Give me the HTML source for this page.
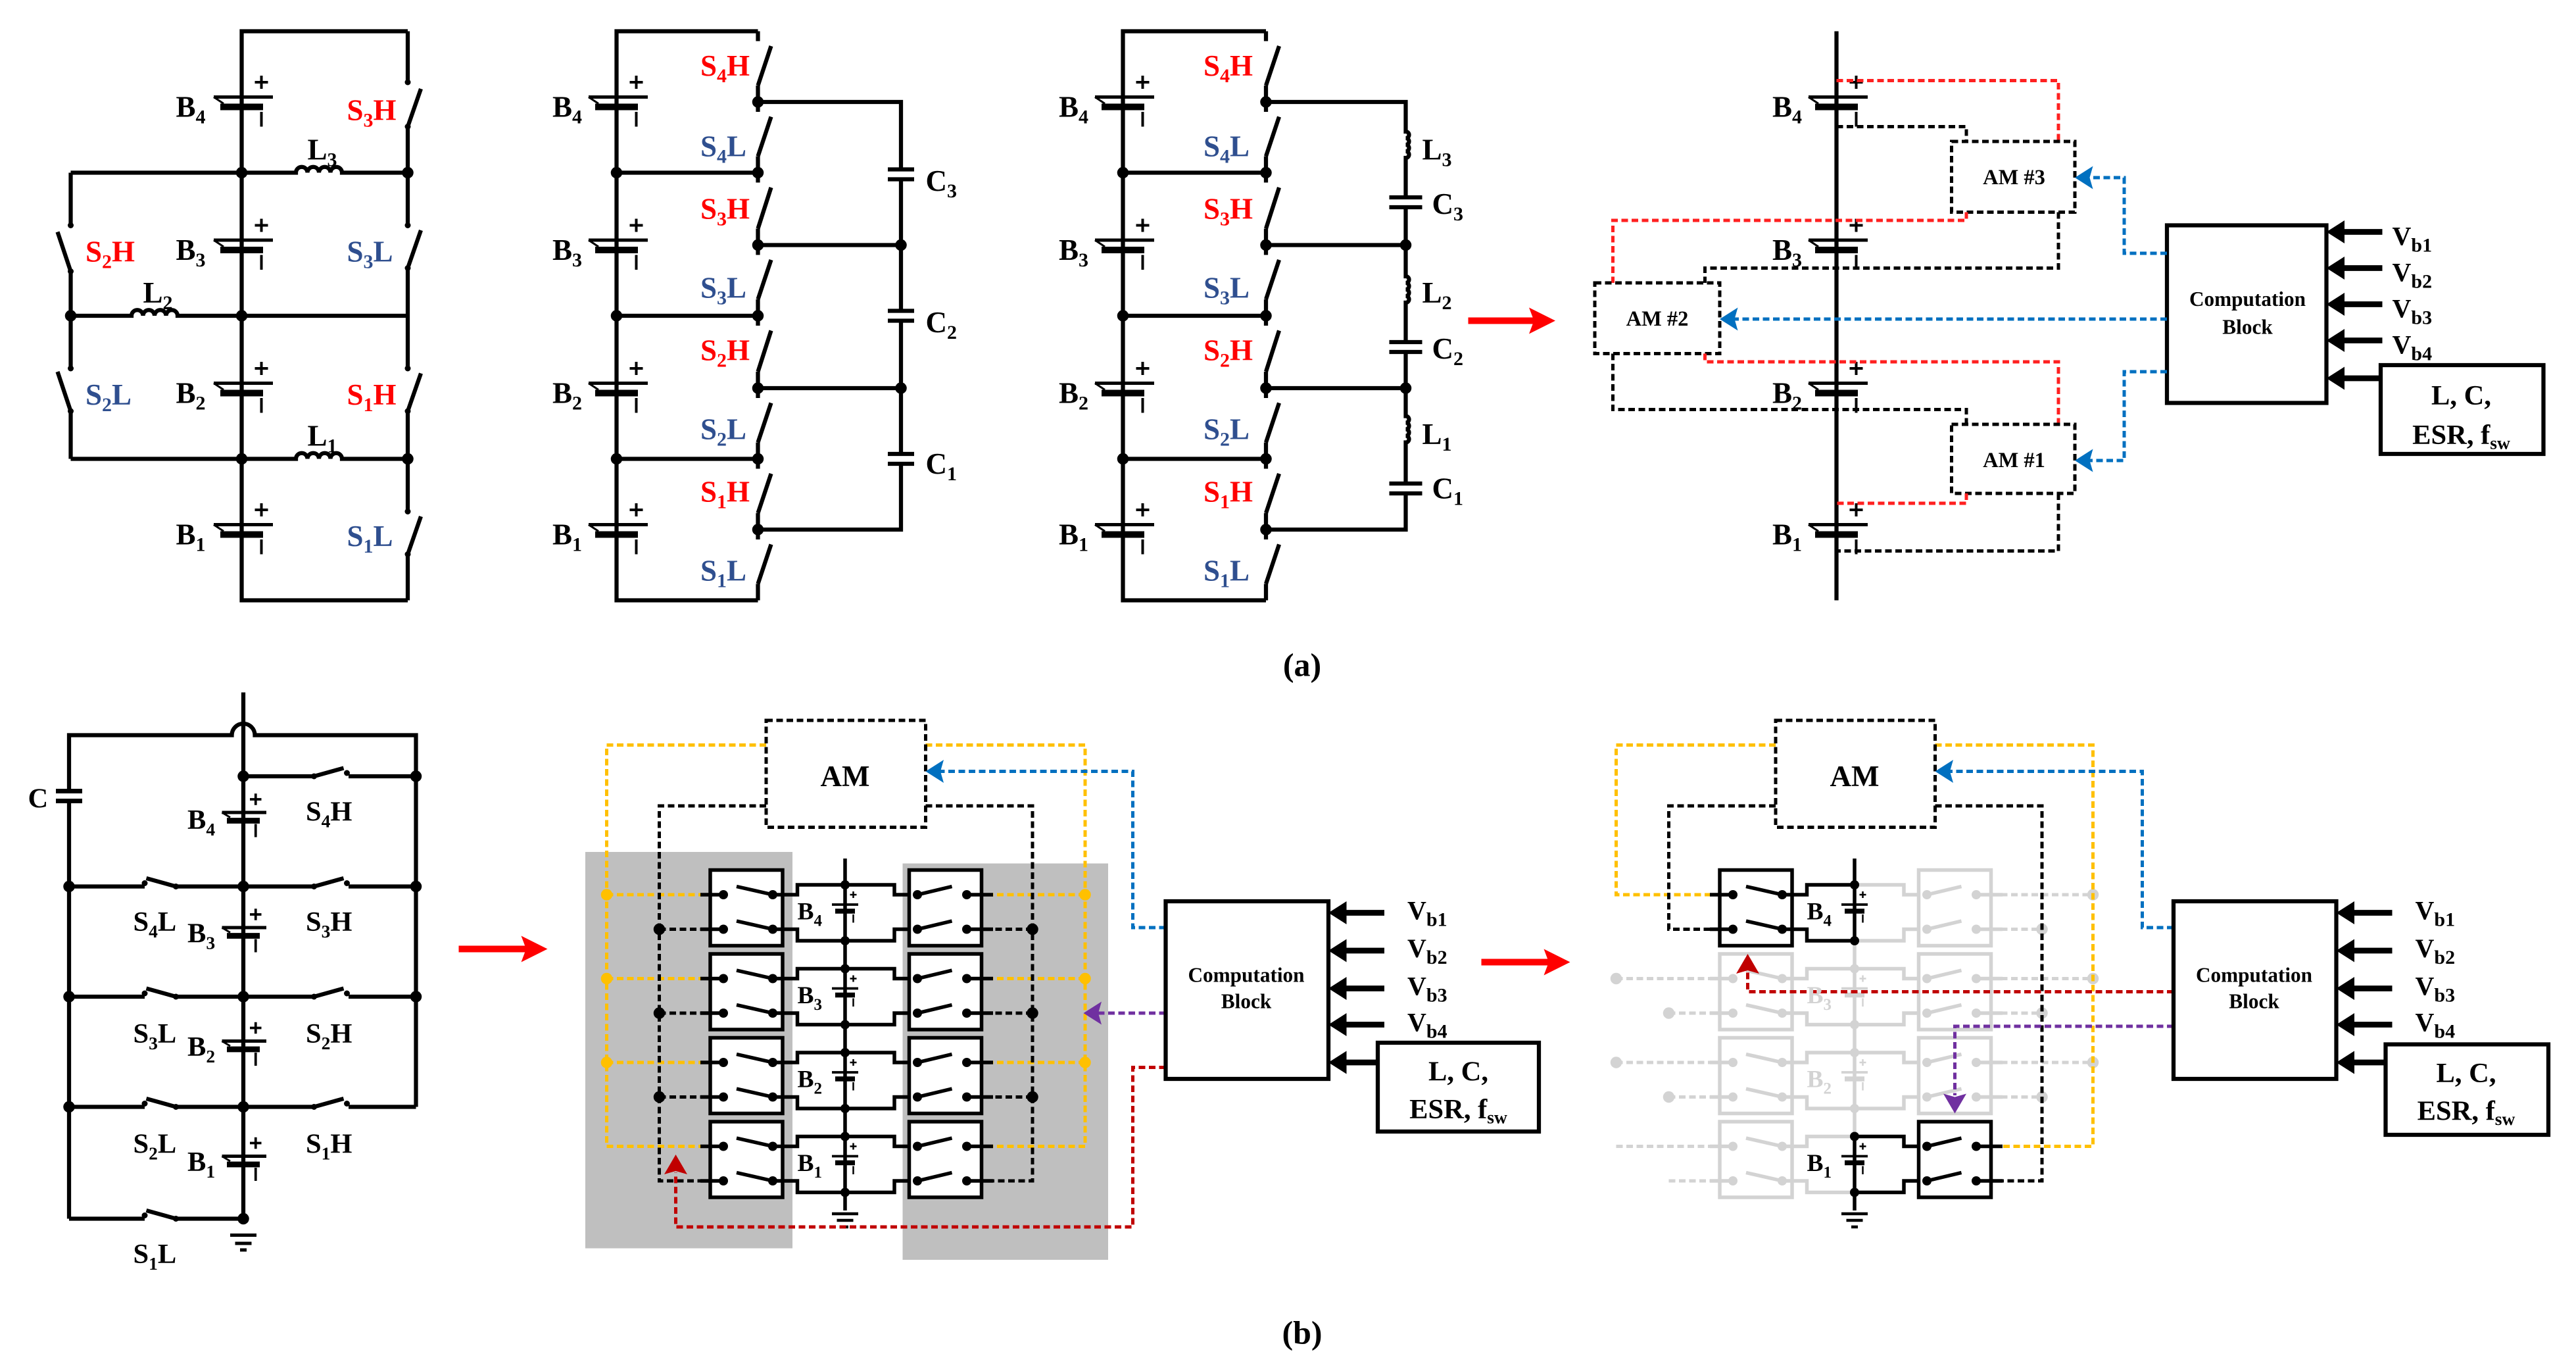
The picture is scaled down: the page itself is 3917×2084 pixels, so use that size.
<!DOCTYPE html>
<html><head><meta charset="utf-8"><style>
html,body{margin:0;padding:0;background:#fff;}
svg{display:block;}
text{font-family:"Liberation Serif",serif;font-weight:bold;}
</style></head><body>
<svg width="3917" height="2084" viewBox="0 0 1566.8 833.6" preserveAspectRatio="none" xmlns="http://www.w3.org/2000/svg">
<defs>
<g id="batA">
<line x1="-17" y1="-3" x2="19" y2="-3" stroke="#000" stroke-width="2"/>
<line x1="-13" y1="3" x2="13" y2="3" stroke="#000" stroke-width="4"/>
<line x1="-17" y1="-3" x2="-11" y2="1" stroke="#000" stroke-width="1.2"/>
<path d="M8,-12H16M12,-16V-8" stroke="#000" stroke-width="1.6"/>
<path d="M12,6V15" stroke="#000" stroke-width="1.6"/>
</g>
<g id="batB">
<line x1="-13" y1="-2" x2="14" y2="-2" stroke="#000" stroke-width="2"/>
<line x1="-10" y1="3" x2="10" y2="3" stroke="#000" stroke-width="3.5"/>
<line x1="-13" y1="-2" x2="-8" y2="1" stroke="#000" stroke-width="1.2"/>
<path d="M4,-10H11M7.5,-13.5V-6.5" stroke="#000" stroke-width="1.5"/>
<path d="M7.5,5V13" stroke="#000" stroke-width="1.5"/>
</g>
<g id="batS">
<line x1="-8" y1="-2" x2="8" y2="-2" stroke="currentColor" stroke-width="1.5"/>
<line x1="-6" y1="2" x2="6" y2="2" stroke="currentColor" stroke-width="3"/>
<path d="M3,-8H7M5,-10V-6" stroke="currentColor" stroke-width="1"/>
<path d="M5,4V9" stroke="currentColor" stroke-width="1"/>
</g>
<g id="cellL" fill="none" stroke="currentColor" stroke-width="2.2">
<rect x="0" y="0" width="44" height="46" fill="#fff"/>
<path d="M16,10L38,15M16,31L38,36M-6,15H8M-6,36H8"/>
<path d="M38,15H53V9H82M38,36H53V43H82"/>
<g fill="currentColor" stroke="none">
<circle cx="8" cy="15" r="2.8"/><circle cx="38" cy="15" r="2.8"/><circle cx="8" cy="36" r="2.8"/><circle cx="38" cy="36" r="2.8"/>
<circle cx="82" cy="9" r="2.8"/><circle cx="82" cy="43" r="2.8"/></g>
</g>
<g id="cellR" fill="none" stroke="currentColor" stroke-width="2.2">
<path d="M82,9H112V15H126M82,43H112V36H126"/>
<rect x="121" y="0" width="44" height="46" fill="#fff"/>
<path d="M126,15L147,10M126,36L147,31M156,15H172M156,36H172"/>
<g fill="currentColor" stroke="none">
<circle cx="126" cy="15" r="2.8"/><circle cx="156" cy="15" r="2.8"/><circle cx="126" cy="36" r="2.8"/><circle cx="156" cy="36" r="2.8"/></g>
</g>
</defs>

<g fill="none" stroke="#000" stroke-width="2.5" stroke-linejoin="miter">
<!-- ===== (a) circuit 1 ===== -->
<path d="M248,19H147V365H248"/>
<path d="M248,19V50M248,77V137M248,163V224M248,250V311M248,337V365"/>
<path d="M248,77L256,54M248,163L256,140M248,250L256,227M248,337L256,314"/>
<path d="M43,105V137M43,165V224M43,250V279"/>
<path d="M43,165L35,141M43,250L35,226"/>
<path d="M43,105H180a3.5,3.5 0 0 1 7,0a3.5,3.5 0 0 1 7,0a3.5,3.5 0 0 1 7,0a3.5,3.5 0 0 1 7,0H248"/>
<path d="M43,192H80a3.5,3.5 0 0 1 7,0a3.5,3.5 0 0 1 7,0a3.5,3.5 0 0 1 7,0a3.5,3.5 0 0 1 7,0H248"/>
<path d="M43,279H180a3.5,3.5 0 0 1 7,0a3.5,3.5 0 0 1 7,0a3.5,3.5 0 0 1 7,0a3.5,3.5 0 0 1 7,0H248"/>

<!-- ===== (a) circuit 2 ===== -->
<path d="M461,19H375V365H461"/>
<path d="M461,19V25M461,52V68M461,95V111M461,139V155M461,182V198M461,226V242M461,269V285M461,312V328M461,355V365"/>
<path d="M461,52L469,28M461,95L469,71M461,139L469,114M461,182L469,158M461,226L469,201M461,269L469,245M461,312L469,288M461,355L469,331"/>
<path d="M375,105H461M375,192H461M375,279H461"/>
<path d="M461,62H548V103M548,109V189M548,195V276M548,282V322H461M461,149H548M461,236H548"/>
<path d="M540,103H556M540,109H556M540,189H556M540,195H556M540,276H556M540,282H556" stroke-width="2.5"/>

<!-- ===== (a) circuit 3 ===== -->
<path d="M770,19H683V365H770"/>
<path d="M770,19V25M770,52V68M770,95V111M770,139V155M770,182V198M770,226V242M770,269V285M770,312V328M770,355V365"/>
<path d="M770,52L778,28M770,95L778,71M770,139L778,114M770,182L778,158M770,226L778,201M770,269L778,245M770,312L778,288M770,355L778,331"/>
<path d="M683,105H770M683,192H770M683,279H770"/>
<path d="M770,62H855V80a2,2 0 0 1 0,4a2,2 0 0 1 0,4a2,2 0 0 1 0,4a2,2 0 0 1 0,4V120M855,126V168a2,2 0 0 1 0,4a2,2 0 0 1 0,4a2,2 0 0 1 0,4a2,2 0 0 1 0,4V208M855,214V253a2,2 0 0 1 0,4a2,2 0 0 1 0,4a2,2 0 0 1 0,4a2,2 0 0 1 0,4V294M855,300V322H770M770,149H855M770,236H855"/>
<path d="M845,120H865M845,126H865M845,208H865M845,214H865M845,294H865M845,300H865"/>

<!-- ===== (a) circuit 4 ===== -->
<path d="M1117,19V365"/>
<rect x="1318" y="137" width="97" height="108" stroke-width="2.5"/>
<rect x="1448" y="222" width="99" height="54" stroke-width="2.5"/>
<path d="M1449,141H1424M1449,163H1424M1449,185H1424M1449,207H1424M1448,230H1424" stroke-width="3.5"/>
</g>
<g fill="#000">
<polygon points="1415,141 1426,134 1426,148"/><polygon points="1415,163 1426,156 1426,170"/><polygon points="1415,185 1426,178 1426,192"/><polygon points="1415,207 1426,200 1426,214"/><polygon points="1415,230 1426,223 1426,237"/>
<!-- dots a1 -->
<circle cx="147" cy="105" r="3.5"/><circle cx="248" cy="105" r="3.5"/><circle cx="43" cy="192" r="3.5"/><circle cx="147" cy="192" r="3.5"/><circle cx="147" cy="279" r="3.5"/><circle cx="248" cy="279" r="3.5"/>
<circle cx="248" cy="50" r="1.8"/><circle cx="248" cy="77" r="1.8"/><circle cx="248" cy="137" r="1.8"/><circle cx="248" cy="163" r="1.8"/><circle cx="248" cy="224" r="1.8"/><circle cx="248" cy="250" r="1.8"/><circle cx="248" cy="311" r="1.8"/><circle cx="248" cy="337" r="1.8"/>
<circle cx="43" cy="137" r="1.8"/><circle cx="43" cy="165" r="1.8"/><circle cx="43" cy="224" r="1.8"/><circle cx="43" cy="250" r="1.8"/>
<!-- dots a2 -->
<circle cx="375" cy="105" r="3.5"/><circle cx="375" cy="192" r="3.5"/><circle cx="375" cy="279" r="3.5"/>
<circle cx="461" cy="62" r="3.5"/><circle cx="461" cy="105" r="3.5"/><circle cx="461" cy="149" r="3.5"/><circle cx="461" cy="192" r="3.5"/><circle cx="461" cy="236" r="3.5"/><circle cx="461" cy="279" r="3.5"/><circle cx="461" cy="322" r="3.5"/>
<circle cx="548" cy="149" r="3.5"/><circle cx="548" cy="236" r="3.5"/>
<!-- dots a3 -->
<circle cx="683" cy="105" r="3.5"/><circle cx="683" cy="192" r="3.5"/><circle cx="683" cy="279" r="3.5"/>
<circle cx="770" cy="62" r="3.5"/><circle cx="770" cy="105" r="3.5"/><circle cx="770" cy="149" r="3.5"/><circle cx="770" cy="192" r="3.5"/><circle cx="770" cy="236" r="3.5"/><circle cx="770" cy="279" r="3.5"/><circle cx="770" cy="322" r="3.5"/>
<circle cx="855" cy="149" r="3.5"/><circle cx="855" cy="236" r="3.5"/>
</g>
<!-- batteries (a) -->
<use href="#batA" x="147" y="62"/><use href="#batA" x="147" y="149"/><use href="#batA" x="147" y="236"/><use href="#batA" x="147" y="322"/>
<use href="#batA" x="375" y="62"/><use href="#batA" x="375" y="149"/><use href="#batA" x="375" y="236"/><use href="#batA" x="375" y="322"/>
<use href="#batA" x="683" y="62"/><use href="#batA" x="683" y="149"/><use href="#batA" x="683" y="236"/><use href="#batA" x="683" y="322"/>
<use href="#batA" x="1117" y="62"/><use href="#batA" x="1117" y="149"/><use href="#batA" x="1117" y="236"/><use href="#batA" x="1117" y="322"/>

<!-- red arrow a -->
<path d="M893,195H933" stroke="#ff0000" stroke-width="4"/>
<polygon points="946,195 930,187 933,195 930,203" fill="#ff0000"/>

<!-- (a) dashed -->
<g fill="none" stroke-width="2" stroke-dasharray="4 2.2">
<path d="M1117,49H1252V86" stroke="#ff2020"/>
<path d="M1117,77H1196V86" stroke="#000"/>
<rect x="1187" y="86" width="75" height="43" stroke="#000"/>
<path d="M1196,129V134H981V172" stroke="#ff2020"/>
<path d="M1252,129V163H1037V172" stroke="#000"/>
<rect x="970" y="172" width="76" height="43" stroke="#000"/>
<path d="M1037,215V220H1252V258" stroke="#ff2020"/>
<path d="M981,215V249H1196V258" stroke="#000"/>
<rect x="1187" y="258" width="75" height="42" stroke="#000"/>
<path d="M1196,300V306H1117" stroke="#ff2020"/>
<path d="M1252,300V335H1117" stroke="#000"/>
<path d="M1318,194H1055" stroke="#0070c0"/>
<path d="M1318,154H1292V108H1271" stroke="#0070c0"/>
<path d="M1318,226H1292V280H1271" stroke="#0070c0"/>
</g>
<g fill="#0070c0">
<polygon points="1046,194 1057,187 1055,194 1057,201"/>
<polygon points="1262,108 1273,101 1271,108 1273,115"/>
<polygon points="1262,280 1273,273 1271,280 1273,287"/>
</g>

<!-- ===== (b) left circuit ===== -->
<g fill="none" stroke="#000" stroke-width="2.5">
<path d="M148,421V741"/>
<path d="M42,481V447H141a7,7 0 0 1 14,0H253V673"/>
<path d="M42,487V741"/>
<path d="M34,481H50M34,487H50" stroke-width="2.8"/>
<path d="M148,472H191M212,472H253"/>
<path d="M42,539H88M107,539H191M212,539H253"/>
<path d="M42,606H88M107,606H191M212,606H253"/>
<path d="M42,673H88M107,673H191M212,673H253"/>
<path d="M42,741H88M107,741H148"/>
<path d="M191,472L209,467M191,539L209,534M191,606L209,601M191,673L209,668"/>
<path d="M107,539L89,534M107,606L89,601M107,673L89,668M107,741L89,736"/>
<path d="M140,751H156M143,756H153M146,760H150" stroke-width="2"/>
</g>
<g fill="#000">
<circle cx="148" cy="472" r="3.5"/><circle cx="253" cy="472" r="3.5"/>
<circle cx="42" cy="539" r="3.5"/><circle cx="148" cy="539" r="3.5"/><circle cx="253" cy="539" r="3.5"/>
<circle cx="42" cy="606" r="3.5"/><circle cx="148" cy="606" r="3.5"/><circle cx="253" cy="606" r="3.5"/>
<circle cx="42" cy="673" r="3.5"/><circle cx="148" cy="673" r="3.5"/><circle cx="148" cy="741" r="3.5"/>
<circle cx="191" cy="472" r="1.8"/><circle cx="211" cy="470" r="1.8"/><circle cx="191" cy="539" r="1.8"/><circle cx="211" cy="537" r="1.8"/><circle cx="191" cy="606" r="1.8"/><circle cx="211" cy="604" r="1.8"/><circle cx="191" cy="673" r="1.8"/><circle cx="211" cy="671" r="1.8"/>
<circle cx="107" cy="539" r="1.8"/><circle cx="88" cy="537" r="1.8"/><circle cx="107" cy="606" r="1.8"/><circle cx="88" cy="604" r="1.8"/><circle cx="107" cy="673" r="1.8"/><circle cx="88" cy="671" r="1.8"/><circle cx="107" cy="741" r="1.8"/><circle cx="88" cy="739" r="1.8"/>
</g>
<use href="#batB" x="148" y="496"/><use href="#batB" x="148" y="566"/><use href="#batB" x="148" y="635"/><use href="#batB" x="148" y="705"/>
<path d="M279,577H320" stroke="#ff0000" stroke-width="4"/>
<polygon points="333,577 317,569 320,577 317,585" fill="#ff0000"/>
<path d="M901,585H942" stroke="#ff0000" stroke-width="4"/>
<polygon points="955,585 939,577 942,585 939,593" fill="#ff0000"/>

<!-- ===== (b) middle ===== -->
<rect x="356" y="518" width="126" height="241" fill="#bfbfbf"/>
<rect x="549" y="525" width="125" height="241" fill="#bfbfbf"/>
<path d="M514,522V736" stroke="#000" stroke-width="2.2"/>
<path d="M506,738H522M509,742H519M512,746H516" stroke="#000" stroke-width="1.8"/>
<g color="#000">
<use href="#cellL" x="432" y="529"/><use href="#cellR" x="432" y="529"/>
<use href="#cellL" x="432" y="580"/><use href="#cellR" x="432" y="580"/>
<use href="#cellL" x="432" y="631"/><use href="#cellR" x="432" y="631"/>
<use href="#cellL" x="432" y="682"/><use href="#cellR" x="432" y="682"/>
<use href="#batS" x="514" y="552"/><use href="#batS" x="514" y="603"/><use href="#batS" x="514" y="654"/><use href="#batS" x="514" y="705"/>
</g>
<g fill="none" stroke-width="2" stroke-dasharray="4 2.2">
<path d="M466,453H369V697H426M369,544H426M369,595H426M369,646H426" stroke="#ffc000"/>
<path d="M563,453H660V697H604M660,544H604M660,595H604M660,646H604" stroke="#ffc000"/>
<path d="M466,490H401V718H426M401,565H426M401,616H426M401,667H426" stroke="#000"/>
<path d="M563,490H628V718H604M628,565H604M628,616H604M628,667H604" stroke="#000"/>
<rect x="466" y="438" width="97" height="65" stroke="#000" fill="#fff"/>
<path d="M709,564H689V469H572" stroke="#0070c0"/>
<path d="M709,616H668" stroke="#7030a0"/>
<path d="M709,649H689V746H411V713" stroke="#c00000"/>
</g>
<g>
<circle cx="369" cy="544" r="3.5" fill="#ffc000"/><circle cx="369" cy="595" r="3.5" fill="#ffc000"/><circle cx="369" cy="646" r="3.5" fill="#ffc000"/>
<circle cx="660" cy="544" r="3.5" fill="#ffc000"/><circle cx="660" cy="595" r="3.5" fill="#ffc000"/><circle cx="660" cy="646" r="3.5" fill="#ffc000"/>
<circle cx="401" cy="565" r="3.5"/><circle cx="401" cy="616" r="3.5"/><circle cx="401" cy="667" r="3.5"/>
<circle cx="628" cy="565" r="3.5"/><circle cx="628" cy="616" r="3.5"/><circle cx="628" cy="667" r="3.5"/>
<polygon points="563,469 574,462 572,469 574,476" fill="#0070c0"/>
<polygon points="659,616 670,609 668,616 670,623" fill="#7030a0"/>
<polygon points="411,702 404,714 411,712 418,714" fill="#c00000"/>
</g>
<g fill="none" stroke="#000" stroke-width="2.5">
<rect x="709" y="548" width="99" height="108"/>
<rect x="838" y="634" width="98" height="54"/>
<path d="M842,555H818M842,578H818M842,601H818M842,623H818M838,646H818" stroke-width="3.5"/>
</g>
<g fill="#000">
<polygon points="808,555 819,548 819,562"/><polygon points="808,578 819,571 819,585"/><polygon points="808,601 819,594 819,608"/><polygon points="808,623 819,616 819,630"/><polygon points="808,646 819,639 819,653"/>
</g>

<!-- ===== (b) right ===== -->
<g color="#d3d3d3">
<path d="M1128,572V691" stroke="#d3d3d3" stroke-width="2.2"/>
<use href="#cellR" x="1046" y="529"/>
<use href="#cellL" x="1046" y="580"/><use href="#cellR" x="1046" y="580"/>
<use href="#cellL" x="1046" y="631"/><use href="#cellR" x="1046" y="631"/>
<use href="#cellL" x="1046" y="682"/>
<use href="#batS" x="1128" y="603"/><use href="#batS" x="1128" y="654"/>
<g fill="none" stroke="#d3d3d3" stroke-width="2" stroke-dasharray="4 2.2">
<path d="M983,595H1040M983,646H1040M983,697H1040M1015,616H1040M1015,667H1040M1015,718H1040"/>
<path d="M1217,544H1273M1217,595H1273M1217,646H1273M1217,565H1242M1217,616H1242M1217,667H1242"/>
</g>
<g fill="#d3d3d3">
<circle cx="983" cy="595" r="3.5"/><circle cx="983" cy="646" r="3.5"/><circle cx="1015" cy="616" r="3.5"/><circle cx="1015" cy="667" r="3.5"/>
<circle cx="1273" cy="544" r="3.5"/><circle cx="1273" cy="595" r="3.5"/><circle cx="1273" cy="646" r="3.5"/>
<circle cx="1242" cy="565" r="3.5"/><circle cx="1242" cy="616" r="3.5"/><circle cx="1242" cy="667" r="3.5"/>
</g>
</g>
<path d="M1128,522V572M1128,691V736" stroke="#000" stroke-width="2.2"/>
<path d="M1120,738H1136M1123,742H1133M1126,746H1130" stroke="#000" stroke-width="1.8"/>
<g color="#000">
<use href="#cellL" x="1046" y="529"/>
<use href="#cellR" x="1046" y="682"/>
<use href="#batS" x="1128" y="552"/><use href="#batS" x="1128" y="705"/>
<circle cx="1128" cy="691" r="2.8"/><circle cx="1128" cy="725" r="2.8"/>
</g>
<g fill="none" stroke-width="2" stroke-dasharray="4 2.2">
<path d="M1080,453H983V544H1040" stroke="#ffc000"/>
<path d="M1177,453H1273V697H1217" stroke="#ffc000"/>
<path d="M1080,490H1015V565H1040" stroke="#000"/>
<path d="M1177,490H1242V718H1217" stroke="#000"/>
<rect x="1080" y="438" width="97" height="65" stroke="#000" fill="#fff"/>
<path d="M1322,564H1303V469H1186" stroke="#0070c0"/>
<path d="M1322,603H1063V591" stroke="#c00000"/>
<path d="M1322,624H1189V666" stroke="#7030a0"/>
</g>
<polygon points="1177,469 1188,462 1186,469 1188,476" fill="#0070c0"/>
<polygon points="1063,580 1056,592 1063,590 1070,592" fill="#c00000"/>
<polygon points="1189,677 1182,665 1189,667 1196,665" fill="#7030a0"/>
<g fill="none" stroke="#000" stroke-width="2.5">
<rect x="1322" y="548" width="99" height="108"/>
<rect x="1451" y="635" width="99" height="55"/>
<path d="M1455,555H1432M1455,578H1432M1455,601H1432M1455,623H1432M1451,646H1432" stroke-width="3.5"/>
</g>
<g fill="#000">
<polygon points="1421,555 1432,548 1432,562"/><polygon points="1421,578 1432,571 1432,585"/><polygon points="1421,601 1432,594 1432,608"/><polygon points="1421,623 1432,616 1432,630"/><polygon points="1421,646 1432,639 1432,653"/>
</g>

<!-- ===== TEXT ===== -->
<g font-size="18" fill="#000" text-anchor="end">
<text x="125" y="71">B<tspan font-size="12" dy="4">4</tspan></text>
<text x="125" y="158">B<tspan font-size="12" dy="4">3</tspan></text>
<text x="125" y="245">B<tspan font-size="12" dy="4">2</tspan></text>
<text x="125" y="331">B<tspan font-size="12" dy="4">1</tspan></text>
<text x="354" y="71">B<tspan font-size="12" dy="4">4</tspan></text>
<text x="354" y="158">B<tspan font-size="12" dy="4">3</tspan></text>
<text x="354" y="245">B<tspan font-size="12" dy="4">2</tspan></text>
<text x="354" y="331">B<tspan font-size="12" dy="4">1</tspan></text>
<text x="662" y="71">B<tspan font-size="12" dy="4">4</tspan></text>
<text x="662" y="158">B<tspan font-size="12" dy="4">3</tspan></text>
<text x="662" y="245">B<tspan font-size="12" dy="4">2</tspan></text>
<text x="662" y="331">B<tspan font-size="12" dy="4">1</tspan></text>
<text x="1096" y="71">B<tspan font-size="12" dy="4">4</tspan></text>
<text x="1096" y="158">B<tspan font-size="12" dy="4">3</tspan></text>
<text x="1096" y="245">B<tspan font-size="12" dy="4">2</tspan></text>
<text x="1096" y="331">B<tspan font-size="12" dy="4">1</tspan></text>
</g>
<g font-size="18">
<text x="211" y="73" fill="#ff0000">S<tspan font-size="12" dy="4">3</tspan><tspan dy="-4">H</tspan></text>
<text x="211" y="159" fill="#2f4f8f">S<tspan font-size="12" dy="4">3</tspan><tspan dy="-4">L</tspan></text>
<text x="52" y="159" fill="#ff0000">S<tspan font-size="12" dy="4">2</tspan><tspan dy="-4">H</tspan></text>
<text x="52" y="246" fill="#2f4f8f">S<tspan font-size="12" dy="4">2</tspan><tspan dy="-4">L</tspan></text>
<text x="211" y="246" fill="#ff0000">S<tspan font-size="12" dy="4">1</tspan><tspan dy="-4">H</tspan></text>
<text x="211" y="332" fill="#2f4f8f">S<tspan font-size="12" dy="4">1</tspan><tspan dy="-4">L</tspan></text>
<text x="187" y="97" fill="#000">L<tspan font-size="12" dy="4">3</tspan></text>
<text x="87" y="184" fill="#000">L<tspan font-size="12" dy="4">2</tspan></text>
<text x="187" y="271" fill="#000">L<tspan font-size="12" dy="4">1</tspan></text>
</g>
<g font-size="18">
<text x="426" y="46" fill="#ff0000">S<tspan font-size="12" dy="4">4</tspan><tspan dy="-4">H</tspan></text>
<text x="426" y="95" fill="#2f4f8f">S<tspan font-size="12" dy="4">4</tspan><tspan dy="-4">L</tspan></text>
<text x="426" y="133" fill="#ff0000">S<tspan font-size="12" dy="4">3</tspan><tspan dy="-4">H</tspan></text>
<text x="426" y="181" fill="#2f4f8f">S<tspan font-size="12" dy="4">3</tspan><tspan dy="-4">L</tspan></text>
<text x="426" y="219" fill="#ff0000">S<tspan font-size="12" dy="4">2</tspan><tspan dy="-4">H</tspan></text>
<text x="426" y="267" fill="#2f4f8f">S<tspan font-size="12" dy="4">2</tspan><tspan dy="-4">L</tspan></text>
<text x="426" y="305" fill="#ff0000">S<tspan font-size="12" dy="4">1</tspan><tspan dy="-4">H</tspan></text>
<text x="426" y="353" fill="#2f4f8f">S<tspan font-size="12" dy="4">1</tspan><tspan dy="-4">L</tspan></text>
<text x="563" y="116" fill="#000">C<tspan font-size="12" dy="4">3</tspan></text>
<text x="563" y="202" fill="#000">C<tspan font-size="12" dy="4">2</tspan></text>
<text x="563" y="288" fill="#000">C<tspan font-size="12" dy="4">1</tspan></text>
</g>
<g font-size="18">
<text x="732" y="46" fill="#ff0000">S<tspan font-size="12" dy="4">4</tspan><tspan dy="-4">H</tspan></text>
<text x="732" y="95" fill="#2f4f8f">S<tspan font-size="12" dy="4">4</tspan><tspan dy="-4">L</tspan></text>
<text x="732" y="133" fill="#ff0000">S<tspan font-size="12" dy="4">3</tspan><tspan dy="-4">H</tspan></text>
<text x="732" y="181" fill="#2f4f8f">S<tspan font-size="12" dy="4">3</tspan><tspan dy="-4">L</tspan></text>
<text x="732" y="219" fill="#ff0000">S<tspan font-size="12" dy="4">2</tspan><tspan dy="-4">H</tspan></text>
<text x="732" y="267" fill="#2f4f8f">S<tspan font-size="12" dy="4">2</tspan><tspan dy="-4">L</tspan></text>
<text x="732" y="305" fill="#ff0000">S<tspan font-size="12" dy="4">1</tspan><tspan dy="-4">H</tspan></text>
<text x="732" y="353" fill="#2f4f8f">S<tspan font-size="12" dy="4">1</tspan><tspan dy="-4">L</tspan></text>
<text x="865" y="97" fill="#000">L<tspan font-size="12" dy="4">3</tspan></text>
<text x="871" y="130" fill="#000">C<tspan font-size="12" dy="4">3</tspan></text>
<text x="865" y="184" fill="#000">L<tspan font-size="12" dy="4">2</tspan></text>
<text x="871" y="218" fill="#000">C<tspan font-size="12" dy="4">2</tspan></text>
<text x="865" y="270" fill="#000">L<tspan font-size="12" dy="4">1</tspan></text>
<text x="871" y="303" fill="#000">C<tspan font-size="12" dy="4">1</tspan></text>
</g>
<g font-size="13" text-anchor="middle" font-weight="bold">
<text x="1225" y="112">AM #3</text>
<text x="1008" y="198">AM #2</text>
<text x="1225" y="284">AM #1</text>
<text x="1367" y="186" font-size="12.5">Computation</text>
<text x="1367" y="203" font-size="12.5">Block</text>
<text x="1497" y="246" font-size="17">L, C,</text>
<text x="1497" y="270" font-size="17">ESR, f<tspan font-size="11" dy="3">sw</tspan></text>
</g>
<g font-size="16">
<text x="1455" y="149">V<tspan font-size="12" dy="4">b1</tspan></text>
<text x="1455" y="171">V<tspan font-size="12" dy="4">b2</tspan></text>
<text x="1455" y="193">V<tspan font-size="12" dy="4">b3</tspan></text>
<text x="1455" y="215">V<tspan font-size="12" dy="4">b4</tspan></text>
</g>
<text x="792" y="411" font-size="20" text-anchor="middle">(a)</text>
<text x="792" y="817" font-size="20" text-anchor="middle">(b)</text>

<!-- (b) left labels -->
<g font-size="17">
<text x="17" y="491">C</text>
<text x="186" y="499">S<tspan font-size="11" dy="4">4</tspan><tspan dy="-4">H</tspan></text>
<text x="186" y="566">S<tspan font-size="11" dy="4">3</tspan><tspan dy="-4">H</tspan></text>
<text x="186" y="634">S<tspan font-size="11" dy="4">2</tspan><tspan dy="-4">H</tspan></text>
<text x="186" y="701">S<tspan font-size="11" dy="4">1</tspan><tspan dy="-4">H</tspan></text>
<text x="81" y="566">S<tspan font-size="11" dy="4">4</tspan><tspan dy="-4">L</tspan></text>
<text x="81" y="634">S<tspan font-size="11" dy="4">3</tspan><tspan dy="-4">L</tspan></text>
<text x="81" y="701">S<tspan font-size="11" dy="4">2</tspan><tspan dy="-4">L</tspan></text>
<text x="81" y="768">S<tspan font-size="11" dy="4">1</tspan><tspan dy="-4">L</tspan></text>
<text x="114" y="504">B<tspan font-size="11" dy="4">4</tspan></text>
<text x="114" y="573">B<tspan font-size="11" dy="4">3</tspan></text>
<text x="114" y="642">B<tspan font-size="11" dy="4">2</tspan></text>
<text x="114" y="712">B<tspan font-size="11" dy="4">1</tspan></text>
</g>
<!-- (b) middle labels -->
<g font-size="15">
<text x="485" y="559">B<tspan font-size="10" dy="4">4</tspan></text>
<text x="485" y="610">B<tspan font-size="10" dy="4">3</tspan></text>
<text x="485" y="661">B<tspan font-size="10" dy="4">2</tspan></text>
<text x="485" y="712">B<tspan font-size="10" dy="4">1</tspan></text>
<text x="1099" y="559">B<tspan font-size="10" dy="4">4</tspan></text>
<text x="1099" y="610" fill="#d3d3d3">B<tspan font-size="10" dy="4">3</tspan></text>
<text x="1099" y="661" fill="#d3d3d3">B<tspan font-size="10" dy="4">2</tspan></text>
<text x="1099" y="712">B<tspan font-size="10" dy="4">1</tspan></text>
</g>
<g text-anchor="middle">
<text x="514" y="478" font-size="18">AM</text>
<text x="1128" y="478" font-size="18">AM</text>
<text x="758" y="597" font-size="12.5">Computation</text>
<text x="758" y="613" font-size="12.5">Block</text>
<text x="1371" y="597" font-size="12.5">Computation</text>
<text x="1371" y="613" font-size="12.5">Block</text>
<text x="887" y="657" font-size="17">L, C,</text>
<text x="887" y="680" font-size="17">ESR, f<tspan font-size="11" dy="3">sw</tspan></text>
<text x="1500" y="658" font-size="17">L, C,</text>
<text x="1500" y="681" font-size="17">ESR, f<tspan font-size="11" dy="3">sw</tspan></text>
</g>
<g font-size="16">
<text x="856" y="559">V<tspan font-size="12" dy="4">b1</tspan></text>
<text x="856" y="582">V<tspan font-size="12" dy="4">b2</tspan></text>
<text x="856" y="605">V<tspan font-size="12" dy="4">b3</tspan></text>
<text x="856" y="627">V<tspan font-size="12" dy="4">b4</tspan></text>
<text x="1469" y="559">V<tspan font-size="12" dy="4">b1</tspan></text>
<text x="1469" y="582">V<tspan font-size="12" dy="4">b2</tspan></text>
<text x="1469" y="605">V<tspan font-size="12" dy="4">b3</tspan></text>
<text x="1469" y="627">V<tspan font-size="12" dy="4">b4</tspan></text>
</g>
</svg>
</body></html>
